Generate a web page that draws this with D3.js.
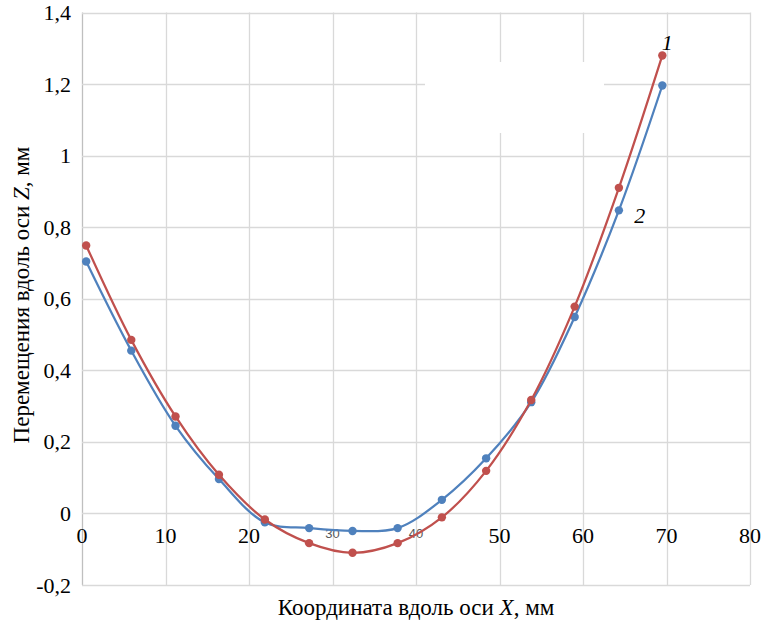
<!DOCTYPE html>
<html>
<head>
<meta charset="utf-8">
<script src="https://cdn.jsdelivr.net/npm/d3@7"></script>
<style>
  body { margin: 0; background: #fff; }
  svg { display: block; }
</style>
</head>
<body>
<script>
// Displacement along Z vs coordinate along X
var xValues = [0.5, 5.9, 11.2, 16.4, 21.9, 27.2, 32.4, 37.8, 43.1, 48.4, 53.8, 59.0, 64.3, 69.5];
var curve1 = [0.749, 0.485, 0.271, 0.108, -0.017, -0.083, -0.110, -0.083, -0.011, 0.119, 0.317, 0.578, 0.910, 1.280];
var curve2 = [0.704, 0.455, 0.245, 0.096, -0.025, -0.041, -0.049, -0.041, 0.038, 0.154, 0.311, 0.549, 0.847, 1.196];
var xTicks = [0, 10, 20, 30, 40, 50, 60, 70, 80];
var xSmallTicks = [30, 40];   // these two keep the original small grey labels
var yTicks = [-0.2, 0, 0.2, 0.4, 0.6, 0.8, 1, 1.2, 1.4];

var serif = "'Liberation Serif', 'Tinos', 'DejaVu Serif', 'Times New Roman', serif";
var sans = "'Liberation Sans', 'DejaVu Sans', Arial, sans-serif";

var width = 764, height = 624;
var margin = { top: 12.5, right: 14, bottom: 39, left: 82 };

var svg = d3.select("body").append("svg")
    .attr("width", width)
    .attr("height", height);

var x = d3.scaleLinear().domain([0, 80]).range([margin.left, width - margin.right]);
var y = d3.scaleLinear().domain([-0.2, 1.4]).range([height - margin.bottom, margin.top]);

var fmt = function (v) { return String(+v.toFixed(1)).replace(".", ","); };

// Grid lines
var grid = svg.append("g").attr("class", "grid");
grid.selectAll("line.v")
    .data(xTicks)
    .enter().append("line")
    .attr("class", "v")
    .attr("x1", function (d) { return Math.round(x(d)) + 0.5; })
    .attr("x2", function (d) { return Math.round(x(d)) + 0.5; })
    .attr("y1", y(1.4))
    .attr("y2", y(-0.2))
    .attr("stroke", function (d) { return d === 0 ? "#bfbfbf" : "#d9d9d9"; })
    .attr("stroke-width", 1.3);
grid.selectAll("line.h")
    .data(yTicks)
    .enter().append("line")
    .attr("class", "h")
    .attr("x1", x(0))
    .attr("x2", x(80))
    .attr("y1", function (d) { return Math.round(y(d)) + 0.5; })
    .attr("y2", function (d) { return Math.round(y(d)) + 0.5; })
    .attr("stroke", "#d9d9d9")
    .attr("stroke-width", 1.3);

// blank patch over the grid (hidden legend area)
svg.append("rect")
    .attr("x", 425).attr("y", 62)
    .attr("width", 179).attr("height", 71)
    .attr("fill", "#fff");

// Y tick labels
svg.append("g").selectAll("text")
    .data(yTicks)
    .enter().append("text")
    .attr("font-family", serif)
    .attr("font-size", 22)
    .attr("x", margin.left - 11)
    .attr("y", function (d) { return y(d) + 7.5; })
    .attr("text-anchor", "end")
    .text(fmt);

// X tick labels (placed just under the zero line)
svg.append("g").selectAll("text")
    .data(xTicks.filter(function (d) { return xSmallTicks.indexOf(d) < 0; }))
    .enter().append("text")
    .attr("font-family", serif)
    .attr("font-size", 22)
    .attr("x", function (d) { return x(d); })
    .attr("y", y(0) + 29.5)
    .attr("text-anchor", "middle")
    .text(function (d) { return d; });
svg.append("g").selectAll("text")
    .data(xSmallTicks)
    .enter().append("text")
    .attr("font-family", sans)
    .attr("font-size", 13)
    .attr("fill", "#595959")
    .attr("x", function (d) { return x(d); })
    .attr("y", y(0) + 24.5)
    .attr("text-anchor", "middle")
    .text(function (d) { return d; });

// Axis titles
var xt = svg.append("text")
    .attr("font-family", serif)
    .attr("font-size", 23)
    .attr("x", 416)
    .attr("y", 615)
    .attr("text-anchor", "middle");
xt.append("tspan").text("Координата вдоль оси ");
xt.append("tspan").attr("font-style", "italic").text("X");
xt.append("tspan").text(", мм");

var yt = svg.append("text")
    .attr("font-family", serif)
    .attr("font-size", 23)
    .attr("transform", "translate(29,295) rotate(-90)")
    .attr("text-anchor", "middle");
yt.append("tspan").text("Перемещения вдоль оси ");
yt.append("tspan").attr("font-style", "italic").text("Z");
yt.append("tspan").text(", мм");

// Curves
var series = [
    { values: curve2, color: "#4f81bd" },
    { values: curve1, color: "#c0504d" }
];
var line = d3.line()
    .x(function (d) { return x(d[0]); })
    .y(function (d) { return y(d[1]); })
    .curve(d3.curveCatmullRom.alpha(0.5));

series.forEach(function (s) {
    var pts = xValues.map(function (xv, i) { return [xv, s.values[i]]; });
    svg.append("path")
        .datum(pts)
        .attr("fill", "none")
        .attr("stroke", s.color)
        .attr("stroke-width", 2.25)
        .attr("d", line);
    svg.append("g").selectAll("circle")
        .data(pts)
        .enter().append("circle")
        .attr("cx", function (d) { return x(d[0]); })
        .attr("cy", function (d) { return y(d[1]); })
        .attr("r", 4.2)
        .attr("fill", s.color);
});

// Curve numbers
svg.append("text")
    .attr("font-family", serif).attr("font-size", 22).attr("font-style", "italic")
    .attr("x", x(70.1)).attr("y", y(1.295))
    .attr("text-anchor", "middle").text("1");
svg.append("text")
    .attr("font-family", serif).attr("font-size", 22).attr("font-style", "italic")
    .attr("x", x(66.8)).attr("y", y(0.811))
    .attr("text-anchor", "middle").text("2");
</script>
</body>
</html>
